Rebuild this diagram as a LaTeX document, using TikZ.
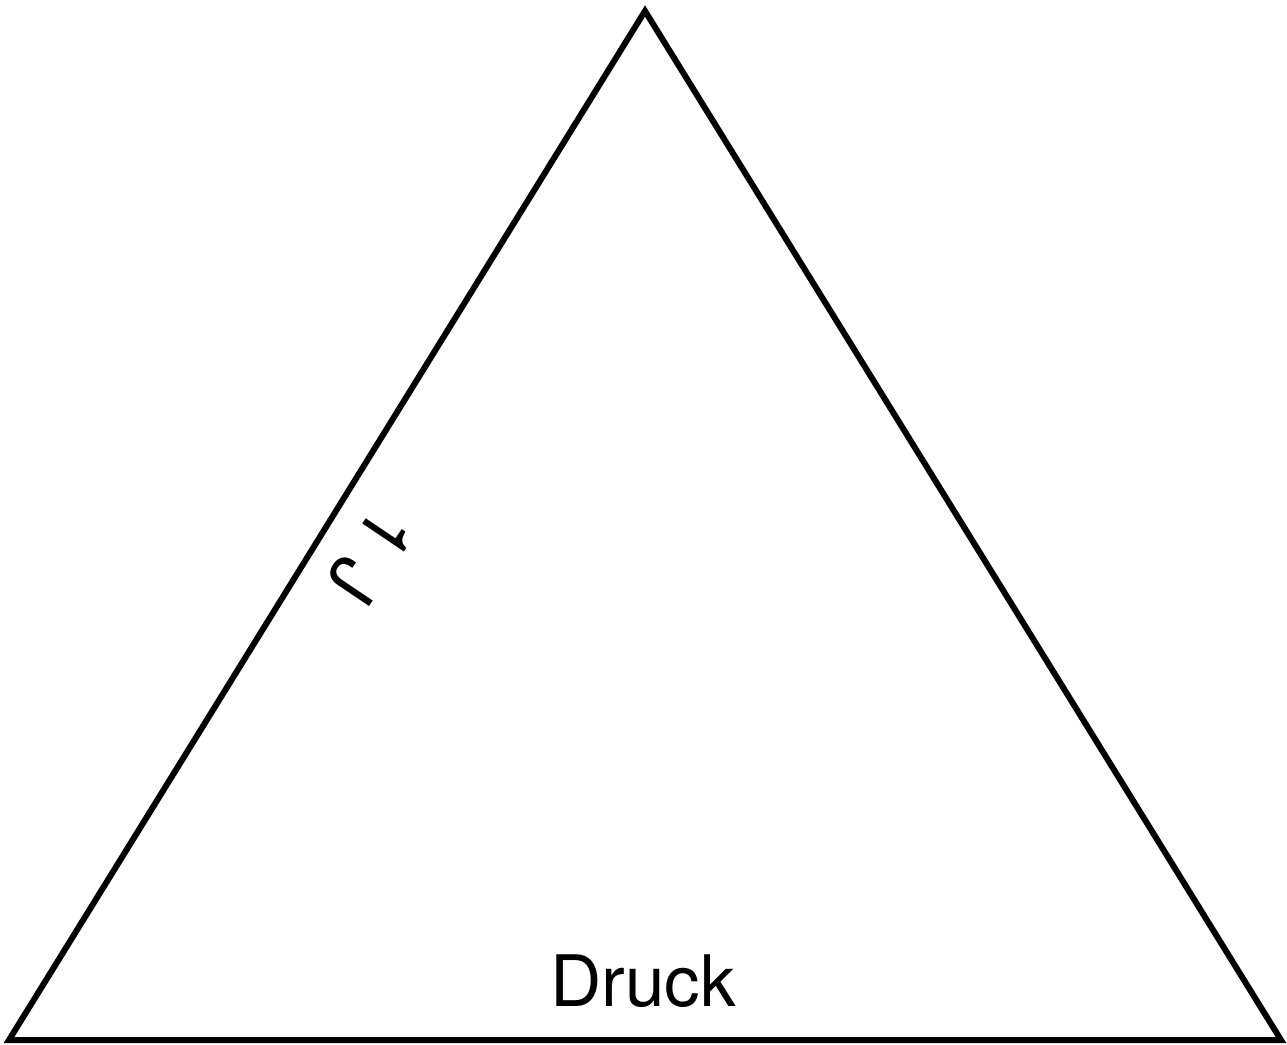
\documentclass[tikz,border=0pt]{standalone}
\usepackage{fontspec}
\setmainfont{TeX Gyre Heros}
\begin{document}
\begin{tikzpicture}[x=1pt, y=-1pt,
        edge/.style = {line width=6pt, line join=miter},
        label/.style = {font=\fontsize{71}{85}\selectfont, inner sep=0pt}]
        \useasboundingbox (0,0) rectangle (1287,1044);
        \coordinate (top) at (645,11);
        \coordinate (left) at (9,1040);
        \coordinate (right) at (1281,1040);
        \draw[edge] (top) -- (left) -- (right) -- cycle;
        \node[label, anchor = base] (druck) at (643,1006) {Druck};
        \node[label, rotate = 236] (side) at (371,557) {1 J};
    \end{tikzpicture}
\end{document}
